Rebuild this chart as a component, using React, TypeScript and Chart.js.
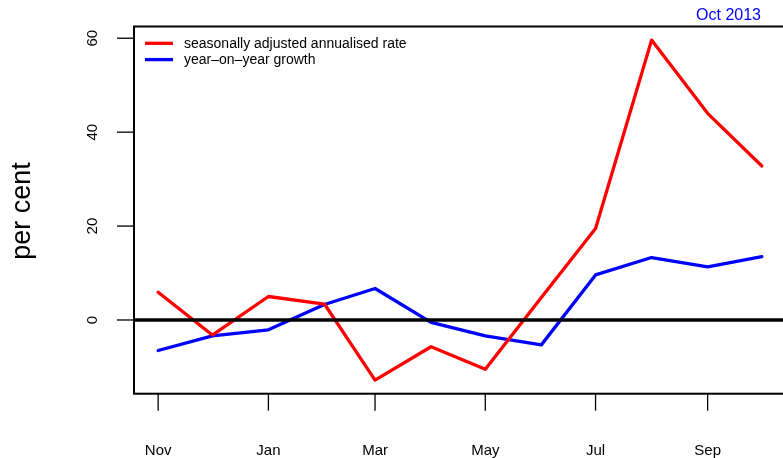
import React, { useEffect, useRef } from "react";
import { Chart, registerables } from "chart.js";

Chart.register(...registerables);

// Monthly observations (first of each month)
const MONTHS = [
  "2012-11-01", "2012-12-01", "2013-01-01", "2013-02-01", "2013-03-01", "2013-04-01",
  "2013-05-01", "2013-06-01", "2013-07-01", "2013-08-01", "2013-09-01", "2013-10-01",
];
const SAAR = [5.9, -3.2, 5.0, 3.4, -12.8, -5.7, -10.5, 4.8, 19.5, 59.6, 44.0, 32.8];
const YOY = [-6.5, -3.4, -2.1, 3.3, 6.7, -0.5, -3.4, -5.3, 9.6, 13.3, 11.3, 13.5];

const X_TICK_DATES = ["2012-11-01", "2013-01-01", "2013-03-01", "2013-05-01", "2013-07-01", "2013-09-01"];
const X_TICK_LABELS = ["Nov", "Jan", "Mar", "May", "Jul", "Sep"];
const Y_TICKS = [0, 20, 40, 60];

const SERIES_LABELS = ["seasonally adjusted annualised rate", "year–on–year growth"];
const SERIES_COLORS = ["#ff0000", "#0000ff"];
const Y_TITLE = "per cent";
const CORNER_NOTE = "Oct 2013";

const FONT = "'Liberation Sans', Arial, Helvetica, sans-serif";
const W = 800;
const H = 458;

const dayOf = (s: string) => (Date.parse(s) - Date.parse(MONTHS[0])) / 86400000;

export default function App() {
  const ref = useRef<HTMLCanvasElement | null>(null);

  useEffect(() => {
    if (!ref.current) return;
    const days = MONTHS.map(dayOf);
    const span = days[days.length - 1] - days[0];
    const all = [...SAAR, ...YOY];
    const lo = Math.min(...all);
    const hi = Math.max(...all);
    const pad = (hi - lo) * 0.04;

    const frame = {
      id: "frame",
      afterDatasetsDraw(chart: any) {
        const { ctx, chartArea: a, scales } = chart;
        const xs = scales.x;
        const ys = scales.y;
        ctx.save();

        // zero reference line, clipped to the plot region
        ctx.save();
        ctx.beginPath();
        ctx.rect(a.left, a.top, a.right - a.left, a.bottom - a.top);
        ctx.clip();
        const y0 = ys.getPixelForValue(0);
        ctx.strokeStyle = "#000";
        ctx.lineWidth = 3.3;
        ctx.beginPath();
        ctx.moveTo(a.left, y0);
        ctx.lineTo(a.right, y0);
        ctx.stroke();
        ctx.restore();

        // plot box
        ctx.strokeStyle = "#000";
        ctx.lineWidth = 2;
        ctx.strokeRect(a.left, a.top, a.right - a.left, a.bottom - a.top);

        // y axis ticks and rotated labels
        ctx.lineWidth = 1.3;
        ctx.fillStyle = "#000";
        ctx.font = `15px ${FONT}`;
        Y_TICKS.forEach((v) => {
          const y = ys.getPixelForValue(v);
          ctx.beginPath();
          ctx.moveTo(a.left - 17, y);
          ctx.lineTo(a.left, y);
          ctx.stroke();
          ctx.save();
          ctx.translate(96.5, y);
          ctx.rotate(-Math.PI / 2);
          ctx.textAlign = "center";
          ctx.textBaseline = "alphabetic";
          ctx.fillText(String(v), 0, 0);
          ctx.restore();
        });

        // x axis ticks and labels
        X_TICK_DATES.forEach((d, i) => {
          const x = xs.getPixelForValue(dayOf(d));
          ctx.beginPath();
          ctx.moveTo(x, a.bottom);
          ctx.lineTo(x, a.bottom + 17);
          ctx.stroke();
          ctx.textAlign = "center";
          ctx.textBaseline = "alphabetic";
          ctx.fillText(X_TICK_LABELS[i], x, 455);
        });

        // y axis title
        ctx.save();
        ctx.font = `27px ${FONT}`;
        ctx.translate(29.5, 211);
        ctx.rotate(-Math.PI / 2);
        ctx.textAlign = "center";
        ctx.textBaseline = "alphabetic";
        ctx.fillText(Y_TITLE, 0, 0);
        ctx.restore();

        // legend
        ctx.font = `14px ${FONT}`;
        ctx.textAlign = "left";
        SERIES_LABELS.forEach((lab, i) => {
          const ly = 43.3 + i * 16.3;
          ctx.strokeStyle = SERIES_COLORS[i];
          ctx.lineWidth = 3.3;
          ctx.beginPath();
          ctx.moveTo(145, ly);
          ctx.lineTo(173, ly);
          ctx.stroke();
          ctx.fillStyle = "#000";
          ctx.fillText(lab, 184, ly + 4.5);
        });

        // date note
        ctx.font = `16px ${FONT}`;
        ctx.fillStyle = "#0000ff";
        ctx.textAlign = "right";
        ctx.fillText(CORNER_NOTE, 761, 20);

        ctx.restore();
      },
    };

    const chart = new Chart(ref.current, {
      type: "line",
      data: {
        datasets: [SAAR, YOY].map((vals, i) => ({
          label: SERIES_LABELS[i],
          data: vals.map((v, j) => ({ x: days[j], y: v })),
          borderColor: SERIES_COLORS[i],
          borderWidth: 3.3,
          pointRadius: 0,
          tension: 0,
          borderJoinStyle: "round" as const,
          borderCapStyle: "round" as const,
          fill: false,
        })),
      },
      options: {
        animation: false,
        responsive: false,
        devicePixelRatio: 1,
        events: [],
        layout: { padding: { left: 134, top: 26.5, right: W - 786, bottom: H - 393.7 } },
        scales: {
          x: { type: "linear", display: false, min: -span * 0.04, max: span * 1.04 },
          y: { type: "linear", display: false, min: lo - pad, max: hi + pad },
        },
        plugins: { legend: { display: false }, tooltip: { enabled: false }, title: { display: false } },
      },
      plugins: [frame],
    });
    return () => chart.destroy();
  }, []);

  return (
    <div style={{ position: "fixed", left: 0, top: 0, width: 783, height: H, overflow: "hidden", background: "#fff" }}>
      <canvas ref={ref} width={W} height={H} style={{ width: W, height: H, display: "block" }} />
    </div>
  );
}
